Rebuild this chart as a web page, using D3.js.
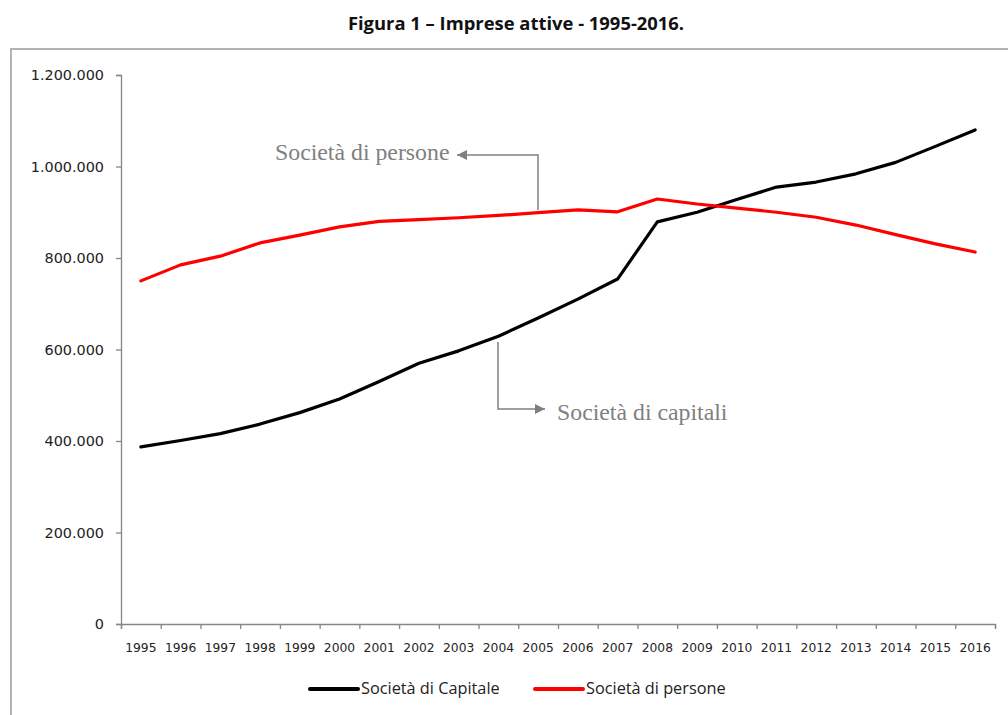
<!DOCTYPE html>
<html>
<head>
<meta charset="utf-8">
<script src="https://cdn.jsdelivr.net/npm/d3@7"></script>
<style>
  html, body { margin: 0; padding: 0; background: #fff; }
  svg { display: block; }
</style>
</head>
<body>
<svg id="chart" width="1008" height="715"></svg>
<script>
// ---- Data ----
const years = [1995,1996,1997,1998,1999,2000,2001,2002,2003,2004,2005,2006,2007,2008,2009,2010,2011,2012,2013,2014,2015,2016];
const capitale = [387000,401000,416000,437000,462000,492000,530000,570000,597000,629000,669000,710000,754000,879000,900000,928000,955000,966000,984000,1009000,1044000,1080000];
const persone = [750000,785000,804000,833000,850000,868000,880000,884000,888000,893000,899000,905000,901000,929000,918000,909000,900000,889000,872000,851000,831000,813000];
const yTicks = [0,200000,400000,600000,800000,1000000,1200000];
const seriesNames = ["Società di Capitale", "Società di persone"];
const title = "Figura 1 \u2013 Imprese attive - 1995-2016.";
const annotations = ["Società di persone", "Società di capitali"];

// ---- Setup ----
const svg = d3.select("#chart");
const W = 1008, H = 715;
const plot = { left: 121, right: 995, top: 75, bottom: 624 };

const itFmt = d3.formatLocale({ decimal: ",", thousands: ".", grouping: [3], currency: ["", ""] }).format(",");

const x = d3.scaleBand().domain(years).range([plot.left, plot.right]).paddingInner(0).paddingOuter(0);
const xEdge = d3.scaleLinear().domain([0, years.length]).range([plot.left, plot.right]);
const y = d3.scaleLinear().domain([0, 1200000]).range([plot.bottom, plot.top]);
const cx = d => x(d) + x.bandwidth() / 2;

// outer frame
svg.append("rect")
  .attr("x", 11).attr("y", 49)
  .attr("width", W + 20).attr("height", H + 20)
  .attr("fill", "none").attr("stroke", "#b3b3b3").attr("stroke-width", 2);

// title
svg.append("text")
  .attr("x", 516).attr("y", 30)
  .attr("text-anchor", "middle")
  .attr("font-family", "'Open Sans', Lato, sans-serif")
  .attr("font-weight", "bold")
  .attr("font-size", 18.4)
  .attr("fill", "#111")
  .text(title);

const axisColor = "#868686";

// y axis
const yAxis = svg.append("g")
  .attr("transform", `translate(${plot.left},0)`)
  .call(d3.axisLeft(y).tickValues(yTicks).tickFormat(itFmt).tickSize(5).tickSizeOuter(5).tickPadding(12));
yAxis.selectAll("path,line").attr("stroke", axisColor).attr("stroke-width", 1.3);
yAxis.selectAll("text")
  .attr("font-family", "'DejaVu Sans', Verdana, sans-serif")
  .attr("font-size", 14.4)
  .attr("fill", "#222");

// x axis ticks at band edges
const xTickAxis = svg.append("g")
  .attr("transform", `translate(0,${plot.bottom})`)
  .call(d3.axisBottom(xEdge).tickValues(d3.range(0, years.length + 1)).tickFormat("").tickSize(5).tickSizeOuter(5));
xTickAxis.selectAll("path,line").attr("stroke", axisColor).attr("stroke-width", 1.3);

// x labels
const xLabelAxis = svg.append("g")
  .attr("transform", `translate(0,${plot.bottom})`)
  .call(d3.axisBottom(x).tickSize(0).tickPadding(19));
xLabelAxis.select(".domain").remove();
xLabelAxis.selectAll("text")
  .attr("font-family", "'DejaVu Sans', Verdana, sans-serif")
  .attr("font-size", 12.3)
  .attr("fill", "#222");

// lines
const line = d3.line().x((d, i) => cx(years[i])).y(d => y(d));
svg.append("path").datum(capitale)
  .attr("d", line).attr("fill", "none").attr("stroke", "#000").attr("stroke-width", 3.2)
  .attr("stroke-linejoin", "round").attr("stroke-linecap", "round");
svg.append("path").datum(persone)
  .attr("d", line).attr("fill", "none").attr("stroke", "#ff0000").attr("stroke-width", 3.2)
  .attr("stroke-linejoin", "round").attr("stroke-linecap", "round");

// annotation arrows
const annColor = "#808080";
const defs = svg.append("defs");
defs.append("marker")
  .attr("id", "arrow").attr("viewBox", "0 0 10 10")
  .attr("refX", 10).attr("refY", 5)
  .attr("markerWidth", 12).attr("markerHeight", 10)
  .attr("markerUnits", "userSpaceOnUse")
  .attr("orient", "auto")
  .append("path").attr("d", "M0,0 L10,5 L0,10 Z").attr("fill", annColor);

const pX = 538;
svg.append("path")
  .attr("d", `M${pX},${210} L${pX},${155} L${457},${155}`)
  .attr("fill", "none").attr("stroke", annColor).attr("stroke-width", 1.5)
  .attr("marker-end", "url(#arrow)");
svg.append("text")
  .attr("x", 275).attr("y", 160)
  .attr("font-family", "'Liberation Serif', 'Times New Roman', serif")
  .attr("font-size", 23.8)
  .attr("fill", annColor)
  .text(annotations[0]);

svg.append("path")
  .attr("d", `M${498},${342} L${498},${409} L${545},${409}`)
  .attr("fill", "none").attr("stroke", annColor).attr("stroke-width", 1.5)
  .attr("marker-end", "url(#arrow)");
svg.append("text")
  .attr("x", 557).attr("y", 420)
  .attr("font-family", "'Liberation Serif', 'Times New Roman', serif")
  .attr("font-size", 23.8)
  .attr("fill", annColor)
  .text(annotations[1]);

// legend
const legendColors = ["#000", "#ff0000"];
const legendX = [310, 535];
const legend = svg.append("g");
seriesNames.forEach((name, i) => {
  legend.append("line")
    .attr("x1", legendX[i]).attr("x2", legendX[i] + 48)
    .attr("y1", 689).attr("y2", 689)
    .attr("stroke", legendColors[i]).attr("stroke-width", 4).attr("stroke-linecap", "round");
  legend.append("text")
    .attr("x", legendX[i] + 51).attr("y", 694)
    .attr("font-family", "'Open Sans', Lato, sans-serif")
    .attr("font-size", 16.3)
    .attr("fill", "#222")
    .text(name);
});
</script>
</body>
</html>
